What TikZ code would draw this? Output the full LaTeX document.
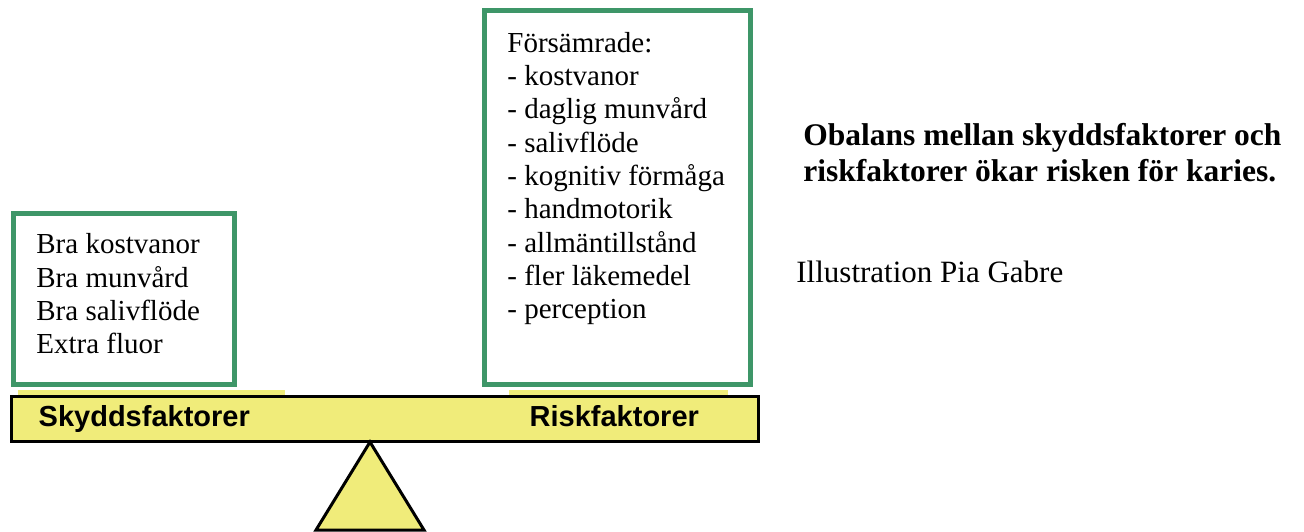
\documentclass[tikz,border=0pt]{standalone}
\usepackage{fontspec}
\setmainfont{Liberation Serif}
\setsansfont{Liberation Sans}
\usepackage{tikz}

\definecolor{boxgreen}{RGB}{62,150,104}
\definecolor{beamyellow}{RGB}{240,236,122}

\begin{document}
\begin{tikzpicture}[x=0.5pt,y=-0.5pt,
	factorbox/.style={draw=boxgreen, line width=2.5pt},
	factorlist/.style={anchor=north west, inner sep=0pt, align=left, font=\fontsize{14.5}{16.65}\selectfont},
	beamlabel/.style={anchor=base west, inner sep=0pt, font=\sffamily\bfseries\fontsize{14.5}{17}\selectfont}]
				\useasboundingbox (0,0) rectangle (1304,531);
				% boxes
				\draw [factorbox] (13.5,213.5) rectangle (234.8,384);
				\draw [factorbox] (484.2,10.8) rectangle (750,384);
				\node [factorlist] (skydd) at (36,233.3) {Bra kostvanor\\Bra munvård\\Bra salivflöde\\Extra fluor};
				\node [factorlist] (risk) at (507,31.7) {Försämrade:\\- kostvanor\\- daglig munvård\\- salivflöde\\- kognitiv förmåga\\- handmotorik\\- allmäntillstånd\\- fler läkemedel\\- perception};
				% beam and support
				\fill [beamyellow] (17.7,390) rectangle (285,395.5);
				\fill [beamyellow] (509,390) rectangle (728.3,395.5);
				\draw [fill=beamyellow, line width=1.5pt] (11,396.7) rectangle (758.3,441);
				\draw [fill=beamyellow, line width=1.5pt, line join=miter] (370,442) -- (424,530) -- (316,530) -- cycle;
				\node [beamlabel] (skyddlabel) at (38.3,426.7) {Skyddsfaktorer};
				\node [beamlabel] (risklabel) at (529.3,426.7) {Riskfaktorer};
				% caption
				\node [anchor=north west, inner sep=0pt, align=left, font=\bfseries\fontsize{15.75}{18}\selectfont] (obalans) at (803,123) {Obalans mellan skyddsfaktorer och\\riskfaktorer ökar risken för karies.};
				\node [anchor=base west, inner sep=0pt, font=\fontsize{15.5}{18}\selectfont] (illustration) at (796,282) {Illustration Pia Gabre};
\end{tikzpicture}
\end{document}
